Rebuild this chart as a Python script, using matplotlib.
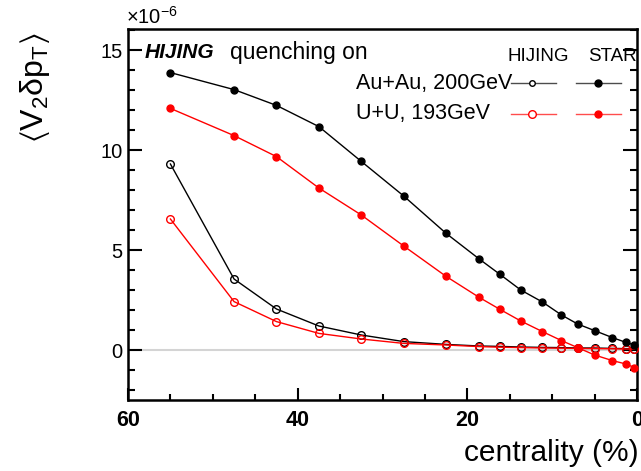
import matplotlib
matplotlib.use("Agg")
import matplotlib.pyplot as plt
from matplotlib.lines import Line2D
from matplotlib.ticker import MultipleLocator

plt.rcParams['font.family'] = ['Liberation Sans', 'DejaVu Sans']
plt.rcParams['mathtext.fontset'] = 'custom'
plt.rcParams['mathtext.rm'] = 'Liberation Sans'
plt.rcParams['mathtext.it'] = 'Liberation Sans:italic'
plt.rcParams['mathtext.default'] = 'regular'

# centrality bin centres (%)
centrality = [55, 47.5, 42.5, 37.5, 32.5, 27.5, 22.5, 18.6, 16.15, 13.7,
              11.15, 8.9, 7.0, 5.0, 2.9, 1.3, 0.3]

# <v2 dpT> in units of 1e-6
star_auau = [13.87, 13.02, 12.23, 11.17, 9.43, 7.7, 5.83, 4.55, 3.78, 3.0,
             2.4, 1.75, 1.3, 0.97, 0.62, 0.38, 0.25]
star_uu = [12.08, 10.72, 9.67, 8.1, 6.75, 5.2, 3.68, 2.63, 2.03, 1.45,
           0.92, 0.47, 0.12, -0.25, -0.53, -0.7, -0.88]
hijing_auau = [9.3, 3.55, 2.05, 1.2, 0.75, 0.42, 0.28, 0.2, 0.18, 0.15,
               0.13, 0.12, 0.1, 0.1, 0.08, 0.07, 0.07]
hijing_uu = [6.55, 2.42, 1.42, 0.83, 0.55, 0.33, 0.25, 0.17, 0.14, 0.12,
             0.1, 0.09, 0.08, 0.07, 0.06, 0.05, 0.05]

systems = ["Au+Au, 200GeV", "U+U, 193GeV"]
colors = ["black", "#ff0000"]

fig = plt.figure(figsize=(6.41, 4.71), dpi=100)
ax = fig.add_axes([128 / 641, 1 - 400 / 471, 509 / 641, 371 / 471])

ax.axhline(0, color="#d4d4d4", lw=1.5, zorder=1)

for y, c in ((hijing_auau, colors[0]), (hijing_uu, colors[1])):
    ax.plot(centrality, y, color=c, lw=1.0, marker="o", ms=5.5,
            mfc="none", mec=c, mew=1.0, zorder=3, clip_on=False)
for y, c in ((star_auau, colors[0]), (star_uu, colors[1])):
    ax.plot(centrality, y, color=c, lw=1.0, marker="o", ms=5,
            mfc=c, mec=c, zorder=4, clip_on=False)

ax.set_xlim(60, 0)
ax.set_ylim(-2.5, 16.05)

for s in ax.spines.values():
    s.set_linewidth(1.8)

ax.xaxis.set_major_locator(MultipleLocator(20))
ax.xaxis.set_minor_locator(MultipleLocator(5))
ax.yaxis.set_major_locator(MultipleLocator(5))
ax.yaxis.set_minor_locator(MultipleLocator(1))
ax.tick_params(axis="both", which="both", direction="in", width=1.5,
               top=False, right=True)
ax.tick_params(axis="x", which="major", length=9, pad=7)
ax.tick_params(axis="x", which="minor", length=4.5)
ax.tick_params(axis="y", which="major", length=10, pad=4)
ax.tick_params(axis="y", which="minor", length=5)
for lab in ax.get_xticklabels():
    lab.set_fontweight("bold")
    lab.set_fontsize(15.5)
for lab in ax.get_yticklabels():
    lab.set_fontsize(14.5)

ax.set_xlabel("centrality (%)", fontsize=21.5, loc="right")
ax.xaxis.set_label_coords(1.003, -0.105)
ax.set_ylabel(r"$\langle V_{2}\delta p_{T}\rangle$", fontsize=23, loc="top")
ax.yaxis.set_label_coords(-0.15, 0.99)

fig.text(126 / 641, 1 - 28 / 471, r"$\times10^{-6}$", fontsize=14.5,
         ha="left", va="bottom")

# header text
ax.text(0.033, 0.938, "HIJING", transform=ax.transAxes, fontsize=15,
        fontweight="bold", fontstyle="italic", va="center", ha="left")
ax.text(0.200, 0.938, "quenching on", transform=ax.transAxes, fontsize=16.5,
        va="center", ha="left")

# two-column key: HIJING (open) and STAR (filled)
ax.text(0.806, 0.925, "HIJING", transform=ax.transAxes, fontsize=13.5,
        ha="center", va="center")
ax.text(0.951, 0.925, "STAR", transform=ax.transAxes, fontsize=13.5,
        ha="center", va="center", zorder=0)
rows_y = [0.854, 0.771]
for name, c, ry, oms in zip(systems, colors, rows_y, [4, 5.5]):
    ax.text(0.448, ry, name, transform=ax.transAxes, fontsize=15.5,
            ha="left", va="center")
    ax.add_line(Line2D([0.752, 0.841], [ry, ry], transform=ax.transAxes,
                       color=c, lw=1.0, alpha=0.7))
    ax.add_line(Line2D([0.793], [ry], transform=ax.transAxes, marker="o",
                       ms=oms, mfc="white", mec=c, mew=1.0, ls="none"))
    ax.add_line(Line2D([0.880, 0.968], [ry, ry], transform=ax.transAxes,
                       color=c, lw=1.0, alpha=0.7))
    ax.add_line(Line2D([0.923], [ry], transform=ax.transAxes, marker="o",
                       ms=5, mfc=c, mec=c, ls="none"))

fig.savefig("out.png", dpi=100)
